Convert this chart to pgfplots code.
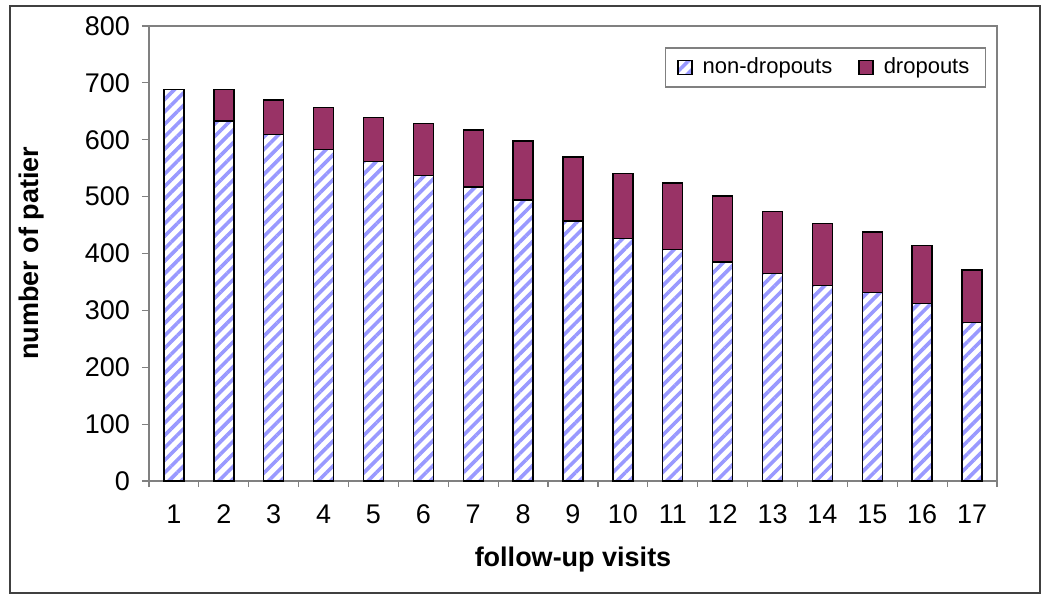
\documentclass[border=0pt]{standalone}
\usepackage{pgfplots}
\pgfplotsset{compat=1.18}
\usetikzlibrary{patterns.meta}
\usepackage{fontspec}
\setmainfont{Liberation Sans}
\definecolor{stripe}{RGB}{153,153,255}
\definecolor{plum}{RGB}{153,51,102}
\pgfplotsset{sqlegend/.style={legend image code/.code={
    \draw[##1] (0pt,-3.5pt) rectangle (7pt,3.5pt);
    \path (10pt,0pt);}}}

\begin{document}
\begin{tikzpicture}
\path (0,0) rectangle (525pt,300pt);
\draw[line width=0.8pt, black!75] (5pt,297pt) rectangle (520pt,3.5pt);
\begin{axis}[
    at={(74.5pt,59.5pt)}, anchor=south west,
    scale only axis, width=424pt, height=227.5pt,
    ybar stacked, bar width=10pt,
    xmin=0.5, xmax=17.5, ymin=0, ymax=800,
    xtick={1,...,17}, minor xtick={0.5,1.5,...,17.5},
    ytick={0,100,...,800},
    tick align=outside, xtick pos=left, ytick pos=left,
    major tick length=3.5pt, minor tick length=3pt,
    tick style={gray, line width=0.6pt},
    major x tick style={draw=none},
    axis line style={gray, line width=0.6pt},
    /pgf/number format/assume math mode=true,
    tick label style={font=\fontsize{13.5}{16}\selectfont},
    xticklabel style={yshift=-5pt},
    yticklabel style={xshift=-2.5pt},
    xlabel={follow-up visits},
    ylabel={number of patier},
    label style={font=\bfseries\fontsize{13.5}{16}\selectfont},
    xlabel style={at={(axis description cs:0.5,-0.172)}, anchor=center},
    ylabel style={at={(axis description cs:-0.138,0.501)}, anchor=center},
    legend style={at={(rel axis cs:0.987,0.953)}, anchor=north east,
        draw=gray, line width=0.6pt, font=\fontsize{11}{13}\selectfont,
        inner xsep=6pt, inner ysep=3pt,
        /tikz/every even column/.append style={column sep=11pt}},
    legend columns=2,
    legend cell align=left,
]
\addplot[draw=black, line width=0.7pt, fill=white,
    postaction={pattern={Lines[angle=45,distance=4.4pt,line width=1.8pt]}, pattern color=stripe},
    sqlegend]
    coordinates{(1,688)(2,633)(3,609)(4,583)(5,562)(6,537)(7,517)(8,494)(9,457)
    (10,426)(11,407)(12,385)(13,365)(14,344)(15,331)(16,312)(17,279)};
\addplot[draw=black, line width=0.7pt, fill=plum, sqlegend]
    coordinates{(1,0)(2,55)(3,61)(4,74)(5,77)(6,92)(7,100)(8,104)(9,113)
    (10,115)(11,117)(12,116)(13,109)(14,109)(15,107)(16,102)(17,92)};
\legend{non-dropouts,dropouts}
\end{axis}
\end{tikzpicture}
\end{document}
